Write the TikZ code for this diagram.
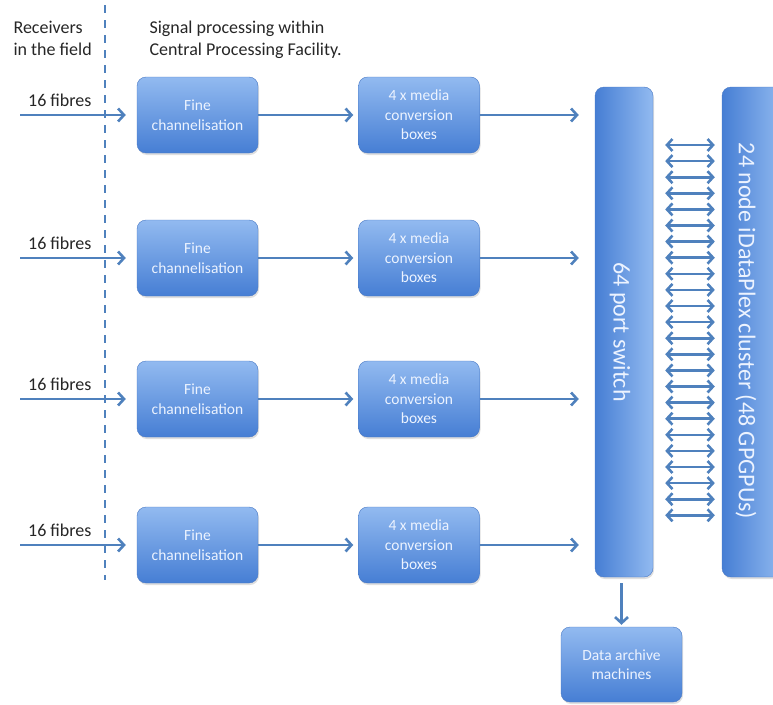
\documentclass[tikz,border=0pt]{standalone}
\usepackage{fontspec}
\setmainfont{Carlito}
\usetikzlibrary{arrows.meta,shadows}
\definecolor{linkblue}{RGB}{79,129,189}
\definecolor{boxtop}{RGB}{146,186,240}
\definecolor{boxbot}{RGB}{70,126,212}
\definecolor{boxline}{RGB}{72,120,196}
\definecolor{boxtext}{RGB}{236,243,255}
\tikzset{
  box/.style={draw=boxline, rounded corners=9pt, top color=boxtop, bottom color=boxbot,
    text=boxtext, align=center, minimum width=121pt, minimum height=76pt,
    font=\fontsize{15.5}{19.5}\selectfont,
    drop shadow={opacity=0.25, shadow xshift=1pt, shadow yshift=-2pt}},
  tall/.style={draw=boxline, rounded corners=9pt, left color=boxbot, right color=boxtop,
    minimum height=490pt, drop shadow={opacity=0.25, shadow xshift=1pt, shadow yshift=-2pt}},
  vtext/.style={rotate=-90, text=boxtext, font=\fontsize{24}{28}\selectfont},
  link/.style={draw=linkblue, line width=2.6pt, -{Straight Barb[length=6pt,width=13pt]}},
  both/.style={draw=linkblue, line width=2.6pt,
    {Straight Barb[length=5.5pt,width=12pt]}-{Straight Barb[length=5.5pt,width=12pt]}},
  head/.style={align=left, font=\fontsize{18}{22}\selectfont, text=black!85}
}
\begin{document}
\begin{tikzpicture}[x=1pt,y=-1pt]
  \useasboundingbox (0,0) rectangle (773,704);
  % headings and the border of the facility
  \node[head, anchor=base west] (recv) at (10,55) {Receivers\\in the field};
  \node[head, anchor=base west] (cpf) at (146,55) {Signal processing within\\Central Processing Facility.};
  \draw[linkblue, line width=2.4pt, dash pattern=on 8pt off 7pt] (105,5) -- (105,580);

  % switch, cluster and archive
  \node[tall, minimum width=58pt] (switch) at (624,332) {};
  \node[vtext] (switchtxt) at (620,332) {64 port switch};
  \node[tall, minimum width=62pt] (cluster) at (753,332) {};
  \node[vtext] (clustertxt) at (746,331) {24 node iDataPlex cluster (48 GPGPUs)};
  \node[box, minimum height=75pt] (archive) at (621.5,664.5) {Data archive\\machines};
  \draw[link, shorten <=6pt, shorten >=2pt] (archive.north |- switch.south) -- (archive);

  % the four signal chains
  \def \Rows{
    1/115,
    2/258,
    3/399,
    4/545}
  \foreach \r / \y in \Rows{
    \coordinate (in\r) at (20,\y);
    \node[anchor=base east, font=\fontsize{18}{22}\selectfont, text=black!85] (lab\r) at (95,\y-9) {16 fibres};
    \node[box] (fine\r) at (197.5,\y) {Fine\\channelisation};
    \node[box] (media\r) at (419,\y) {4 x media\\conversion\\boxes};
    \draw[link, shorten >=11pt] (in\r) -- (fine\r);
    \draw[link, shorten >=5pt] (fine\r) -- (media\r);
    \draw[link, shorten >=16pt] (media\r) -- (media\r -| switch.west);
  }

  % links between switch and cluster nodes
  \foreach \k in {0,...,23}{
    \draw[both, shorten <=12pt, shorten >=7pt] (switch.east |- 0,145+16.1*\k) -- (cluster.west |- 0,145+16.1*\k);
  }
\end{tikzpicture}
\end{document}
